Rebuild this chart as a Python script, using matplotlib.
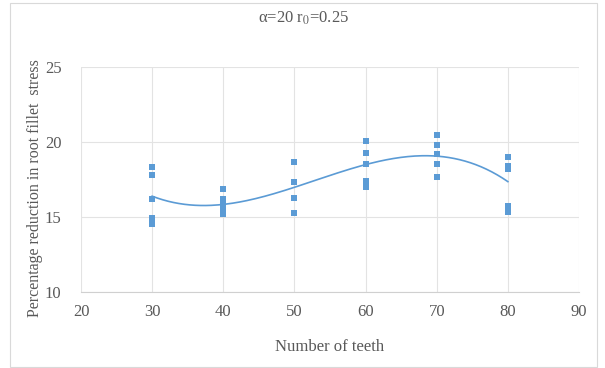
import numpy as np
import matplotlib.pyplot as plt
from matplotlib.patches import Rectangle

plt.rcParams['font.family'] = ['Liberation Serif', 'DejaVu Serif']
plt.rcParams['mathtext.fontset'] = 'stix'

# measured reduction (%) for each tooth count
teeth = [30, 40, 50, 60, 70, 80]
reduction = [
    [18.33, 17.8, 16.2, 14.93, 14.53],
    [16.87, 16.2, 15.87, 15.53, 15.2],
    [18.67, 17.33, 16.27, 15.27],
    [20.07, 19.27, 18.53, 17.4, 17.0],
    [20.47, 19.8, 19.2, 18.53, 17.67],
    [19.0, 18.4, 18.2, 15.73, 15.33],
]

xs = np.concatenate([[t] * len(r) for t, r in zip(teeth, reduction)])
ys = np.concatenate(reduction)

fig = plt.figure(figsize=(6.05, 3.68), dpi=100)
ax = fig.add_axes([81 / 605, 1 - 292 / 368, (579 - 81) / 605, (292 - 67) / 368])

grey = '#595959'
blue = '#5B9BD5'

# cubic trendline through all samples
coef = np.polyfit(xs, ys, 3)
xf = np.linspace(30, 80, 200)
ax.plot(xf, np.polyval(coef, xf), color=blue, lw=1.2, zorder=2)
ax.scatter(xs, ys, marker='s', s=13, color=blue, zorder=3, linewidths=0)

ax.set_xlim(20, 90)
ax.set_ylim(10, 25)
ax.set_xticks(range(20, 91, 10))
ax.set_yticks([10, 15, 20, 25])
ax.grid(True, color='#e3e3e3', lw=0.8)
ax.set_axisbelow(True)
for s in ['top', 'right', 'left']:
    ax.spines[s].set_visible(False)
ax.spines['bottom'].set_color('#d0d0d0')
ax.tick_params(length=0, colors=grey, labelsize=12, pad=9)
ax.tick_params(axis='y', pad=14)

ax.set_xlabel('Number of teeth', color=grey, fontsize=12, labelpad=13)
ax.set_ylabel('Percentage reduction in root fillet  stress', color=grey,
              fontsize=11.5)
ax.yaxis.set_label_coords(-38 / 498, 0.46)
fig.text(0.502, 1 - 18 / 368, r'α=20 r$_{\mathrm{0}}$=0.25', color=grey,
         fontsize=12, ha='center', va='center')

fig.patches.append(Rectangle((10 / 605, 1 / 368), 587 / 605, 364 / 368,
                             transform=fig.transFigure, fill=False,
                             edgecolor='#d9d9d9', lw=0.8))

fig.savefig('out.png', dpi=100, facecolor='white')
